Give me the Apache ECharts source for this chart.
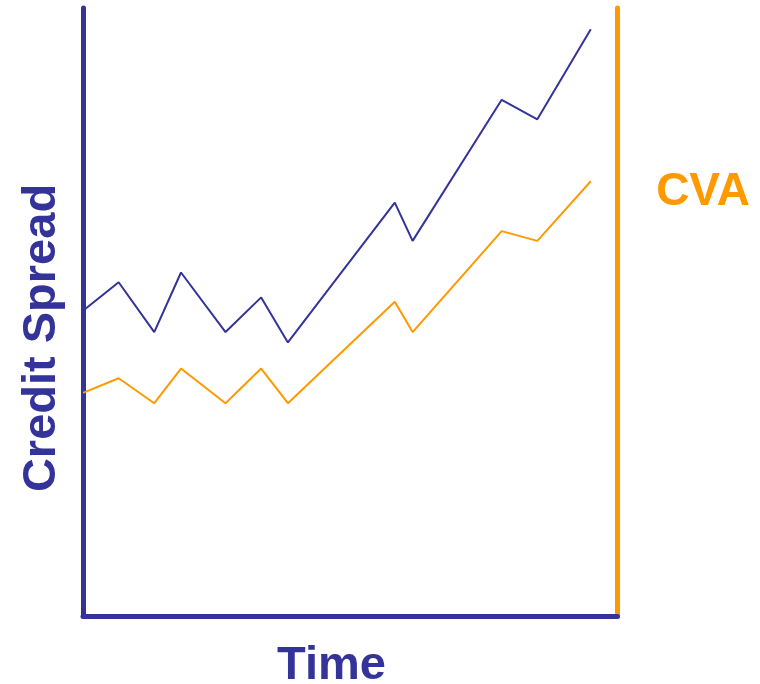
<!DOCTYPE html>
<html>
<head>
<meta charset="utf-8">
<style>
  html, body { margin: 0; padding: 0; background: #ffffff; }
  #chart { width: 760px; height: 684px; }
</style>
<script src="https://cdn.jsdelivr.net/npm/echarts@6/dist/echarts.min.js"></script>
</head>
<body>
<div id="chart"></div>
<script>
// Time points (years) and the two paths drawn over them
const time = [0, 2, 4, 5.5, 8, 10, 11.5, 17.5, 18.5, 23.5, 25.5, 28.5];
const creditSpread = [50.2, 54.9, 46.7, 56.5, 46.7, 52.4, 45.0, 68.0, 61.7, 84.9, 81.7, 96.5];
const cva = [36.7, 39.1, 35.0, 40.7, 35.0, 40.7, 35.0, 51.7, 46.7, 63.3, 61.7, 71.5];

const BLUE = '#333399';
const ORANGE = '#FF9900';
const FONT = "'Liberation Sans', Arial, sans-serif";

const pairs = (xs, ys) => xs.map((x, i) => [x, ys[i]]);

const chart = echarts.init(document.getElementById('chart'), null, { renderer: 'canvas' });

const hiddenBits = {
  axisLabel: { show: false },
  axisTick: { show: false },
  splitLine: { show: false }
};

chart.setOption({
  animation: false,
  backgroundColor: '#ffffff',
  grid: { left: 83, right: 142.5, top: 8, bottom: 68, containLabel: false },
  xAxis: Object.assign({
    type: 'value', min: 0, max: 30,
    axisLine: { show: true, onZero: false, lineStyle: { color: BLUE, width: 5 } }
  }, hiddenBits),
  yAxis: [
    Object.assign({
      type: 'value', min: 0, max: 100, position: 'left',
      axisLine: { show: true, onZero: false, lineStyle: { color: BLUE, width: 5 } }
    }, hiddenBits),
    Object.assign({
      type: 'value', min: 0, max: 100, position: 'right',
      axisLine: { show: true, onZero: false, lineStyle: { color: ORANGE, width: 5 } }
    }, hiddenBits)
  ],
  series: [
    {
      name: 'Credit Spread', type: 'line', yAxisIndex: 0,
      data: pairs(time, creditSpread),
      showSymbol: false, lineStyle: { color: BLUE, width: 2 }, z: 3
    },
    {
      name: 'CVA', type: 'line', yAxisIndex: 1,
      data: pairs(time, cva),
      showSymbol: false, lineStyle: { color: ORANGE, width: 2 }, z: 3
    }
  ],
  graphic: [
    {
      type: 'text', x: 331.5, y: 666,
      style: { text: 'Time', fill: BLUE, font: `bold 47px ${FONT}`, align: 'center', verticalAlign: 'middle' }
    },
    {
      type: 'text', x: 703, y: 192,
      style: { text: 'CVA', fill: ORANGE, font: `bold 46px ${FONT}`, align: 'center', verticalAlign: 'middle' }
    },
    {
      type: 'text', x: 42, y: 338, rotation: Math.PI / 2,
      style: { text: 'Credit Spread', fill: BLUE, font: `bold 47px ${FONT}`, align: 'center', verticalAlign: 'middle' }
    }
  ]
});
</script>
</body>
</html>
